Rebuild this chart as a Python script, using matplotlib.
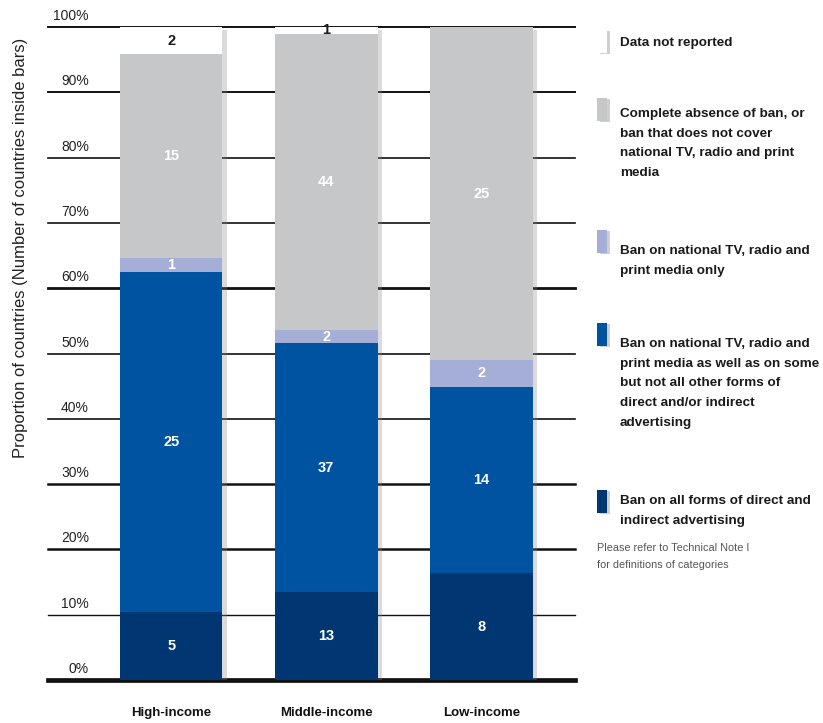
import matplotlib
matplotlib.use("Agg")
import matplotlib.pyplot as plt
import matplotlib.patheffects as pe
from matplotlib.patches import Rectangle
import numpy as np

################################################################################

groups = ["High-income", "Middle-income", "Low-income"]
# counts per category, bottom to top
all_forms = [5, 13, 8]
tv_plus_some = [25, 37, 14]
tv_only = [1, 2, 2]
no_ban = [15, 44, 25]
not_reported = [2, 1, 0]

series = [all_forms, tv_plus_some, tv_only, no_ban, not_reported]
colors = ["#003772", "#0053a0", "#a4aed6", "#c6c7c9", "#ffffff"]
text_colors = ["white", "white", "white", "white", "#1a1a1a"]

legend_labels = [
    "Data not reported",
    "Complete absence of ban, or\nban that does not cover\nnational TV, radio and print\nmedia",
    "Ban on national TV, radio and\nprint media only",
    "Ban on national TV, radio and\nprint media as well as on some\nbut not all other forms of\ndirect and/or indirect\nadvertising",
    "Ban on all forms of direct and\nindirect advertising",
]
legend_colors = ["#ffffff", "#c6c7c9", "#a4aed6", "#0053a0", "#003772"]

yticks = list(range(0, 101, 10))
grid_widths = [3.4, 1.0, 1.8, 1.8, 1.2, 1.2, 2.0, 1.2, 1.2, 1.4, 1.4]

################################################################################

plt.rcParams["font.family"] = ["Liberation Sans", "DejaVu Sans"]

W, H = 823, 723
fig = plt.figure(figsize=(W / 100, H / 100), dpi=100)
ax = fig.add_axes([48 / W, 1 - 680 / H, (575 - 48) / W, (680 - 27) / H])

data = np.array(series, dtype=float)
totals = data.sum(axis=0)
pct = data / totals * 100
x = np.arange(len(groups))

for y, lw in zip(yticks, grid_widths):
    ax.axhline(y, color="#111111", lw=lw, zorder=1, clip_on=False)

bottom = np.zeros(len(groups))
for i, (vals, p) in enumerate(zip(series, pct)):
    ax.bar(x, p, 0.66, bottom=bottom, color=colors[i], zorder=3)
    for j, v in enumerate(vals):
        if v:
            ax.text(x[j], bottom[j] + p[j] / 2, str(v), ha="center", va="center",
                    color=text_colors[i], fontsize=10.5, fontweight="bold", zorder=5)
    bottom += p

# soft shadow behind full stacks
shadow = [pe.SimplePatchShadow(offset=(3, -2), shadow_rgbFace="#888888", alpha=0.3), pe.Normal()]
ax.bar(x, bottom, 0.66, color="white", zorder=2, path_effects=shadow)

ax.set_xlim(-0.794, 2.603)
ax.set_ylim(0, 100)
ax.set_yticks([])
ax.set_xticks([])
for s in ax.spines.values():
    s.set_visible(False)

for y in yticks:
    ax.text(-0.53, y + 0.6, f"{y}%", ha="right", va="bottom", fontsize=10, color="#222222")

for j, g in enumerate(groups):
    ax.text(x[j], -4.2, g, ha="center", va="top", fontsize=9.5, fontweight="bold", color="#111111")

fig.text(21 / W, 1 - 248 / H, "Proportion of countries (Number of countries inside bars)",
         rotation=90, ha="center", va="center", fontsize=12, color="#222222")

# legend
swatch_tops = [30, 98, 230, 323, 490]
text_tops = [37, 108, 245, 338, 495]
for lab, c, st, tt in zip(legend_labels, legend_colors, swatch_tops, text_tops):
    r = Rectangle((597 / W, 1 - (st + 23) / H), 10 / W, 23 / H, transform=fig.transFigure,
                  facecolor=c, edgecolor="none",
                  path_effects=[pe.SimplePatchShadow(offset=(2, -1), shadow_rgbFace="#888888", alpha=0.4), pe.Normal()])
    fig.add_artist(r)
    fig.text(620 / W, 1 - tt / H, lab, ha="left", va="top", fontsize=9.7, fontweight="bold",
             color="#1a1a1a", linespacing=1.85)

fig.text(597 / W, 1 - 543 / H, "Please refer to Technical Note I\nfor definitions of categories",
         ha="left", va="top", fontsize=7.8, color="#555555", linespacing=1.9)

plt.savefig("out.png", dpi=100)
